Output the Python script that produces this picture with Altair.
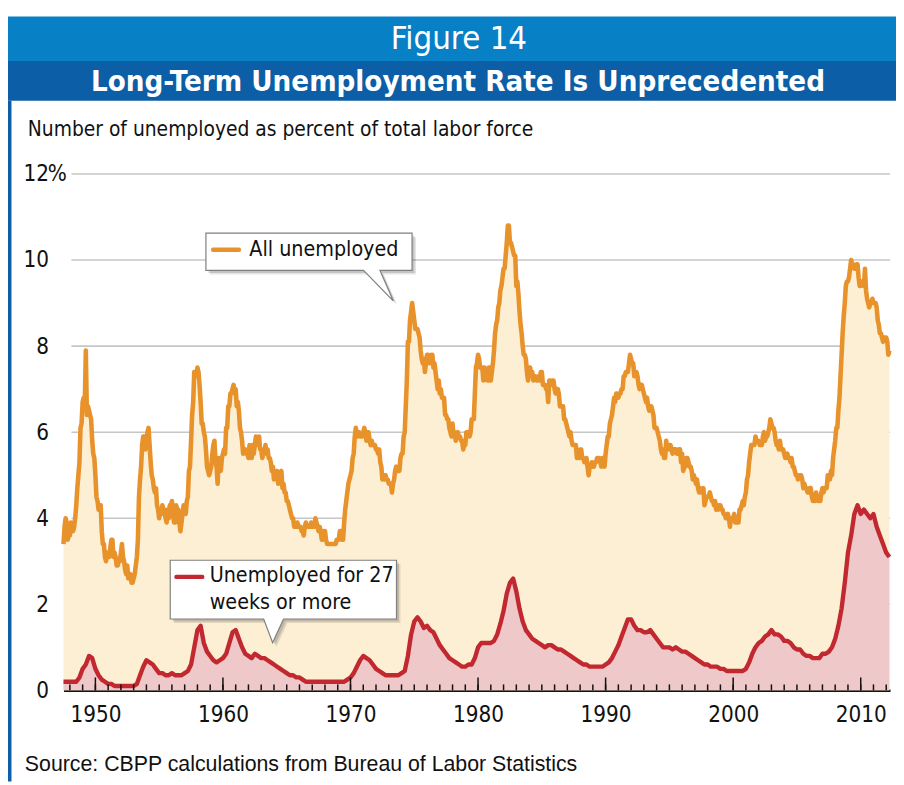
import altair as alt
import pandas as pd

# ---------------- data ----------------
# All unemployed, % of labor force, monthly (Jan 1948 - Oct 2012)
all_1940s = [3.4, 3.8, 4.0, 3.9, 3.5, 3.6, 3.6, 3.9, 3.8, 3.7, 3.8, 4.0,
             4.3, 4.7, 5.0, 5.3, 6.1, 6.2, 6.7, 6.8, 6.6, 7.9, 6.4, 6.6]
all_1950s = [6.5, 6.4, 6.3, 5.8, 5.5, 5.4, 5.0, 4.5, 4.4, 4.2, 4.2, 4.3,
             3.7, 3.4, 3.4, 3.1, 3.0, 3.2, 3.1, 3.1, 3.3, 3.5, 3.5, 3.1,
             3.2, 3.1, 2.9, 2.9, 3.0, 3.0, 3.2, 3.4, 3.1, 3.0, 2.8, 2.7,
             2.9, 2.6, 2.6, 2.7, 2.5, 2.5, 2.6, 2.7, 2.9, 3.1, 3.5, 4.5,
             4.9, 5.2, 5.7, 5.9, 5.9, 5.6, 5.8, 6.0, 6.1, 5.7, 5.3, 5.0,
             4.9, 4.7, 4.6, 4.7, 4.3, 4.2, 4.0, 4.2, 4.1, 4.3, 4.2, 4.2,
             4.0, 3.9, 4.2, 4.0, 4.3, 4.3, 4.4, 4.1, 3.9, 3.9, 4.3, 4.2,
             4.2, 3.9, 3.7, 3.9, 4.1, 4.3, 4.2, 4.1, 4.4, 4.5, 5.1, 5.2,
             5.8, 6.4, 6.7, 7.4, 7.4, 7.3, 7.5, 7.4, 7.1, 6.7, 6.2, 6.2,
             6.0, 5.9, 5.6, 5.2, 5.1, 5.0, 5.1, 5.2, 5.5, 5.7, 5.8, 5.3]
all_1960s = [5.2, 4.8, 5.4, 5.2, 5.1, 5.4, 5.5, 5.6, 5.5, 6.1, 6.1, 6.6,
             6.6, 6.9, 6.9, 7.0, 7.1, 6.9, 7.0, 6.6, 6.7, 6.5, 6.1, 6.0,
             5.8, 5.5, 5.6, 5.6, 5.5, 5.5, 5.4, 5.7, 5.6, 5.4, 5.7, 5.5,
             5.7, 5.9, 5.7, 5.7, 5.9, 5.6, 5.6, 5.4, 5.5, 5.5, 5.7, 5.5,
             5.6, 5.4, 5.4, 5.3, 5.1, 5.2, 4.9, 5.0, 5.1, 5.1, 4.8, 5.0,
             4.9, 5.1, 4.7, 4.8, 4.6, 4.6, 4.4, 4.4, 4.3, 4.2, 4.1, 4.0,
             4.0, 3.8, 3.8, 3.8, 3.9, 3.8, 3.8, 3.8, 3.7, 3.7, 3.6, 3.8,
             3.9, 3.8, 3.8, 3.8, 3.8, 3.9, 3.8, 3.8, 3.8, 4.0, 3.9, 3.8,
             3.7, 3.8, 3.7, 3.5, 3.5, 3.7, 3.7, 3.5, 3.4, 3.4, 3.4, 3.4,
             3.4, 3.4, 3.4, 3.4, 3.4, 3.5, 3.5, 3.5, 3.7, 3.7, 3.5, 3.5]
all_1970s = [3.9, 4.2, 4.4, 4.6, 4.8, 4.9, 5.0, 5.1, 5.4, 5.5, 5.9, 6.1,
             5.9, 5.9, 6.0, 5.9, 5.9, 5.9, 6.0, 6.1, 6.0, 5.8, 6.0, 6.0,
             5.8, 5.7, 5.8, 5.7, 5.7, 5.7, 5.6, 5.6, 5.5, 5.6, 5.3, 5.2,
             4.9, 5.0, 4.9, 5.0, 4.9, 4.9, 4.8, 4.8, 4.8, 4.6, 4.8, 4.9,
             5.1, 5.2, 5.1, 5.1, 5.1, 5.4, 5.5, 5.5, 5.9, 6.0, 6.6, 7.2,
             8.1, 8.1, 8.6, 8.8, 9.0, 8.8, 8.6, 8.4, 8.4, 8.4, 8.3, 8.2,
             7.9, 7.7, 7.6, 7.7, 7.4, 7.6, 7.8, 7.8, 7.6, 7.7, 7.8, 7.8,
             7.5, 7.6, 7.4, 7.2, 7.0, 7.2, 6.9, 7.0, 6.8, 6.8, 6.8, 6.4,
             6.4, 6.3, 6.3, 6.1, 6.0, 5.9, 6.2, 5.9, 6.0, 5.8, 5.9, 6.0,
             5.9, 5.9, 5.8, 5.8, 5.6, 5.7, 5.7, 6.0, 5.9, 6.0, 5.9, 6.0]
all_1980s = [6.3, 6.3, 6.3, 6.9, 7.5, 7.6, 7.8, 7.7, 7.5, 7.5, 7.5, 7.2,
             7.5, 7.4, 7.4, 7.2, 7.5, 7.5, 7.2, 7.4, 7.6, 7.9, 8.3, 8.5,
             8.6, 8.9, 9.0, 9.3, 9.4, 9.6, 9.8, 9.8, 10.1, 10.4, 10.8, 10.8,
             10.4, 10.4, 10.3, 10.2, 10.1, 10.1, 9.4, 9.5, 9.2, 8.8, 8.5, 8.3,
             8.0, 7.8, 7.8, 7.7, 7.4, 7.2, 7.5, 7.5, 7.3, 7.4, 7.2, 7.3,
             7.3, 7.2, 7.2, 7.3, 7.2, 7.4, 7.4, 7.1, 7.1, 7.1, 7.0, 7.0,
             6.7, 7.2, 7.2, 7.1, 7.2, 7.2, 7.0, 6.9, 7.0, 7.0, 6.9, 6.6,
             6.6, 6.6, 6.6, 6.3, 6.3, 6.2, 6.1, 6.0, 5.9, 6.0, 5.8, 5.7,
             5.7, 5.7, 5.7, 5.4, 5.6, 5.4, 5.4, 5.6, 5.4, 5.4, 5.3, 5.3,
             5.4, 5.2, 5.0, 5.2, 5.2, 5.3, 5.2, 5.2, 5.3, 5.3, 5.4, 5.4]
all_1990s = [5.4, 5.3, 5.2, 5.4, 5.4, 5.2, 5.5, 5.7, 5.9, 5.9, 6.2, 6.3,
             6.4, 6.6, 6.8, 6.7, 6.9, 6.9, 6.8, 6.9, 6.9, 7.0, 7.0, 7.3,
             7.3, 7.4, 7.4, 7.4, 7.6, 7.8, 7.7, 7.6, 7.6, 7.3, 7.4, 7.4,
             7.3, 7.1, 7.0, 7.1, 7.1, 7.0, 6.9, 6.8, 6.7, 6.8, 6.6, 6.5,
             6.6, 6.6, 6.5, 6.4, 6.1, 6.1, 6.1, 6.0, 5.9, 5.8, 5.6, 5.5,
             5.6, 5.4, 5.4, 5.8, 5.6, 5.6, 5.7, 5.7, 5.6, 5.5, 5.6, 5.6,
             5.6, 5.5, 5.5, 5.6, 5.6, 5.3, 5.5, 5.1, 5.2, 5.2, 5.4, 5.4,
             5.3, 5.2, 5.2, 5.1, 4.9, 5.0, 4.9, 4.8, 4.9, 4.7, 4.6, 4.7,
             4.6, 4.6, 4.7, 4.3, 4.4, 4.5, 4.5, 4.5, 4.6, 4.5, 4.4, 4.4,
             4.3, 4.4, 4.2, 4.3, 4.2, 4.3, 4.3, 4.2, 4.2, 4.1, 4.1, 4.0]
all_2000s = [4.0, 4.1, 4.0, 3.8, 4.0, 4.0, 4.0, 4.1, 3.9, 3.9, 3.9, 3.9,
             4.2, 4.2, 4.3, 4.4, 4.3, 4.5, 4.6, 4.9, 5.0, 5.3, 5.5, 5.7,
             5.7, 5.7, 5.7, 5.9, 5.8, 5.8, 5.8, 5.7, 5.7, 5.7, 5.9, 6.0,
             5.8, 5.9, 5.9, 6.0, 6.1, 6.3, 6.2, 6.1, 6.1, 6.0, 5.8, 5.7,
             5.7, 5.6, 5.8, 5.6, 5.6, 5.6, 5.5, 5.4, 5.4, 5.5, 5.4, 5.4,
             5.3, 5.4, 5.2, 5.2, 5.1, 5.0, 5.0, 4.9, 5.0, 5.0, 5.0, 4.9,
             4.7, 4.8, 4.7, 4.7, 4.6, 4.6, 4.7, 4.7, 4.5, 4.4, 4.5, 4.4,
             4.6, 4.5, 4.4, 4.5, 4.4, 4.6, 4.7, 4.6, 4.7, 4.7, 4.7, 5.0,
             5.0, 4.9, 5.1, 5.0, 5.4, 5.6, 5.8, 6.1, 6.1, 6.5, 6.8, 7.3,
             7.8, 8.3, 8.7, 9.0, 9.4, 9.5, 9.5, 9.6, 9.8, 10.0, 9.9, 9.9]
all_2010s = [9.8, 9.8, 9.9, 9.9, 9.6, 9.4, 9.4, 9.5, 9.5, 9.4, 9.8, 9.3,
             9.1, 9.0, 8.9, 9.0, 9.0, 9.1, 9.0, 9.0, 9.0, 8.9, 8.6, 8.5,
             8.3, 8.3, 8.2, 8.1, 8.2, 8.2, 8.2, 8.1, 7.8, 7.9]

# Unemployed 27 weeks or more, % of labor force, quarterly (1948 Q1 - 2012 Q4)
lt_1940s = [0.2, 0.2, 0.2, 0.2, 0.2, 0.3, 0.5, 0.6]
lt_1950s = [0.8, 0.75, 0.5, 0.35, 0.25, 0.2, 0.15, 0.15, 0.1, 0.1, 0.1, 0.1,
            0.1, 0.1, 0.1, 0.15, 0.35, 0.55, 0.7, 0.65, 0.6, 0.5, 0.4, 0.4,
            0.35, 0.35, 0.4, 0.35, 0.35, 0.35, 0.4, 0.45, 0.6, 1.0, 1.4, 1.5,
            1.1, 0.9, 0.8, 0.7]
lt_1960s = [0.65, 0.7, 0.75, 0.85, 1.1, 1.35, 1.4, 1.2, 1.0, 0.85, 0.8, 0.75,
            0.85, 0.8, 0.75, 0.75, 0.7, 0.65, 0.6, 0.55, 0.5, 0.45, 0.4, 0.35,
            0.35, 0.3, 0.3, 0.25, 0.2, 0.2, 0.2, 0.2, 0.2, 0.2, 0.2, 0.2,
            0.2, 0.2, 0.2, 0.2]
lt_1970s = [0.2, 0.25, 0.3, 0.4, 0.55, 0.7, 0.8, 0.75, 0.7, 0.6, 0.5, 0.45,
            0.4, 0.35, 0.35, 0.35, 0.35, 0.35, 0.4, 0.45, 0.8, 1.3, 1.6, 1.7,
            1.6, 1.45, 1.5, 1.4, 1.35, 1.2, 1.05, 0.95, 0.85, 0.75, 0.7, 0.65,
            0.6, 0.55, 0.55, 0.6]
lt_1980s = [0.6, 0.75, 1.0, 1.1, 1.1, 1.1, 1.1, 1.15, 1.3, 1.55, 1.85, 2.25,
            2.5, 2.6, 2.3, 1.9, 1.6, 1.4, 1.3, 1.2, 1.15, 1.1, 1.05, 1.0,
            1.05, 1.05, 1.0, 0.95, 0.95, 0.9, 0.85, 0.8, 0.75, 0.7, 0.65, 0.6,
            0.6, 0.55, 0.55, 0.55]
lt_1990s = [0.55, 0.55, 0.6, 0.65, 0.75, 0.9, 1.05, 1.25, 1.45, 1.65, 1.65, 1.5,
            1.4, 1.4, 1.35, 1.35, 1.4, 1.3, 1.2, 1.1, 1.0, 1.0, 1.0, 0.95,
            1.0, 0.95, 0.9, 0.9, 0.85, 0.8, 0.75, 0.7, 0.65, 0.6, 0.6, 0.55,
            0.55, 0.55, 0.5, 0.5]
lt_2000s = [0.45, 0.45, 0.45, 0.45, 0.45, 0.45, 0.5, 0.65, 0.85, 1.0, 1.1, 1.15,
            1.25, 1.3, 1.4, 1.3, 1.3, 1.25, 1.15, 1.15, 1.1, 1.0, 0.95, 0.95,
            0.85, 0.8, 0.8, 0.75, 0.75, 0.75, 0.85, 0.85, 0.9, 1.0, 1.2, 1.5,
            1.9, 2.5, 3.2, 3.6]
lt_2010s = [4.1, 4.3, 4.1, 4.2, 4.1, 4.0, 4.1, 3.8, 3.6, 3.4, 3.2, 3.1]

grid_values = [2, 4, 6, 8, 10, 12]
y_labels = [0, 2, 4, 6, 8, 10, 12]
decade_labels = [1950, 1960, 1970, 1980, 1990, 2000, 2010]
tick_years = list(range(1948, 2013))

# ---------------- tables ----------------
all_vals = all_1940s + all_1950s + all_1960s + all_1970s + all_1980s + all_1990s + all_2000s + all_2010s
lt_vals = lt_1940s + lt_1950s + lt_1960s + lt_1970s + lt_1980s + lt_1990s + lt_2000s + lt_2010s
df_all = pd.DataFrame({"t": [1948 + i / 12 for i in range(len(all_vals))], "v": all_vals})
df_lt = pd.DataFrame({"t": [1948 + i / 4 for i in range(len(lt_vals))], "v": lt_vals})
df_grid = pd.DataFrame({"v": grid_values})
df_minor = pd.DataFrame({"year": tick_years})
df_major = pd.DataFrame({"year": decade_labels})
one = pd.DataFrame({"k": [0]})

# ---------------- style ----------------
W, H = 834, 521
COND = "DejaVu Sans Condensed, Liberation Sans Narrow, sans-serif"
ORANGE = "#E8922B"
RED = "#C1282F"
YELLOW_FILL = "#FDEFD4"
PINK_FILL = "#EFC8C9"
BLUE1 = "#0780C6"
BLUE2 = "#0C5EA6"
TICK_FS = 22.5
CALL_FS = 21.5

xscale = alt.Scale(domain=[1948, 2012.8], nice=False, zero=False)
yscale = alt.Scale(domain=[0, 12], nice=False)

x_axis = alt.Axis(values=[d + 0.5 for d in decade_labels], labelExpr="floor(datum.value)",
                  title=None, grid=False, ticks=False, domain=True, domainColor="#111",
                  domainWidth=2.5, labelFont=COND, labelFontSize=TICK_FS, labelColor="#111",
                  labelPadding=13, labelFlush=False, labelOverlap=False)
y_axis = alt.Axis(values=y_labels, title=None, grid=False, ticks=False, domain=False,
                  labelFont=COND, labelFontSize=TICK_FS, labelColor="#111", labelAlign="right",
                  labelBaseline="middle", labelPadding=15, labelFlush=False, labelOverlap=False)

X = lambda f: alt.X(f, scale=xscale, axis=x_axis)
Y = lambda f: alt.Y(f, scale=yscale, axis=y_axis)

# header bands
band1 = alt.Chart(one).mark_rect(color=BLUE1).encode(
    x=alt.value(-56), x2=alt.value(W + 6), y=alt.value(-159), y2=alt.value(-114))
band2 = alt.Chart(one).mark_rect(color=BLUE2).encode(
    x=alt.value(-56), x2=alt.value(W + 6), y=alt.value(-114), y2=alt.value(-74))
side = alt.Chart(one).mark_rect(color=BLUE2).encode(
    x=alt.value(-56), x2=alt.value(-52.5), y=alt.value(-74), y2=alt.value(H + 92))
fig_txt = alt.Chart(one).mark_text(text="Figure 14", font=COND, fontSize=33, color="white",
                                   align="center", baseline="middle").encode(
    x=alt.value(399), y=alt.value(-136))
title_txt = alt.Chart(one).mark_text(text="Long-Term Unemployment Rate Is Unprecedented", font=COND,
                                     fontSize=29.5, fontWeight="bold", color="white",
                                     align="center", baseline="middle").encode(
    x=alt.value(398), y=alt.value(-93))
subtitle = alt.Chart(one).mark_text(text="Number of unemployed as percent of total labor force",
                                    font=COND, fontSize=21, color="#111", align="left",
                                    baseline="middle").encode(x=alt.value(-36), y=alt.value(-44))
source = alt.Chart(one).mark_text(text="Source: CBPP calculations from Bureau of Labor Statistics",
                                  font="Liberation Sans, Arial, sans-serif", fontSize=21.5,
                                  color="#111", align="left", baseline="middle").encode(
    x=alt.value(-39), y=alt.value(596))
pct = alt.Chart(one).mark_text(text="%", font=COND, fontSize=TICK_FS, color="#111", align="left",
                               baseline="middle").encode(x=alt.value(-16), y=alt.value(0))

grid = alt.Chart(df_grid).mark_rule(color="#C6C6C6", strokeWidth=1.6).encode(
    y=Y("v:Q"), x=alt.value(8), x2=alt.value(W))

area_all = alt.Chart(df_all).mark_area(color=YELLOW_FILL, opacity=1).encode(x=X("t:Q"), y=Y("v:Q"))
area_lt = alt.Chart(df_lt).mark_area(color=PINK_FILL, opacity=1).encode(x=X("t:Q"), y=Y("v:Q"))
line_all = alt.Chart(df_all).mark_line(color=ORANGE, strokeWidth=4.6, strokeJoin="round").encode(
    x=X("t:Q"), y=Y("v:Q"))
line_lt = alt.Chart(df_lt).mark_line(color=RED, strokeWidth=4.4, strokeJoin="round").encode(
    x=X("t:Q"), y=Y("v:Q"))

minor_ticks = alt.Chart(df_minor).transform_calculate(tx="datum.year + 0.5").mark_rule(
    color="#111", strokeWidth=1.5).encode(x=X("tx:Q"), y=alt.value(H), y2=alt.value(H - 6))
major_ticks = alt.Chart(df_major).transform_calculate(tx="datum.year + 0.5").mark_rule(
    color="#111", strokeWidth=1.5).encode(x=X("tx:Q"), y=alt.value(H), y2=alt.value(H - 13))

# callouts
path1 = "M0,0 H208 V37.6 H175.6 L189,68.3 L159,37.6 H0 Z"
path2 = "M0,0 H228.3 V59.3 H114.3 L103.3,83.3 L94.3,59.3 H0 Z"


def callout(path, bx, by):
    layers = []
    for off, op in [(4, 0.10), (2.5, 0.14)]:
        layers.append(alt.Chart(one).mark_point(shape=path, size=4, filled=True, fill="#000",
                                                fillOpacity=op, strokeWidth=0, opacity=1).encode(
            x=alt.value(bx + off), y=alt.value(by + off)))
    layers.append(alt.Chart(one).mark_point(shape=path, size=4, filled=True, fill="white",
                                            stroke="#7f7f7f", strokeWidth=1.2, opacity=1).encode(
        x=alt.value(bx), y=alt.value(by)))
    return layers


c1 = callout(path1, 143.7, 59.7)
c2 = callout(path2, 107.7, 389.7)
leg1 = alt.Chart(one).mark_rule(color=ORANGE, strokeWidth=4.5, strokeCap="round").encode(
    x=alt.value(151), x2=alt.value(177), y=alt.value(76.5))
leg1_txt = alt.Chart(one).mark_text(text="All unemployed", font=COND, fontSize=CALL_FS, color="#111",
                                    align="left", baseline="middle").encode(
    x=alt.value(187.5), y=alt.value(77))
leg2 = alt.Chart(one).mark_rule(color=RED, strokeWidth=4.5, strokeCap="round").encode(
    x=alt.value(114), x2=alt.value(140), y=alt.value(406.5))
leg2_txt1 = alt.Chart(one).mark_text(text="Unemployed for 27", font=COND, fontSize=CALL_FS, color="#111",
                                     align="left", baseline="middle").encode(
    x=alt.value(147.5), y=alt.value(406))
leg2_txt2 = alt.Chart(one).mark_text(text="weeks or more", font=COND, fontSize=CALL_FS, color="#111",
                                     align="left", baseline="middle").encode(
    x=alt.value(147.5), y=alt.value(433))

chart = alt.layer(
    band1, band2, side, fig_txt, title_txt, subtitle, source,
    grid, area_all, area_lt, line_all, line_lt, minor_ticks, major_ticks, pct,
    *c1, leg1, leg1_txt, *c2, leg2, leg2_txt1, leg2_txt2,
).properties(
    width=W, height=H,
    padding={"left": 56, "top": 164, "right": 6, "bottom": 92},
    autosize=alt.AutoSizeParams(type="none"),
    background="white",
).configure_view(stroke=None)

chart.save("out.html", embed_options={"renderer": "svg", "actions": False})
